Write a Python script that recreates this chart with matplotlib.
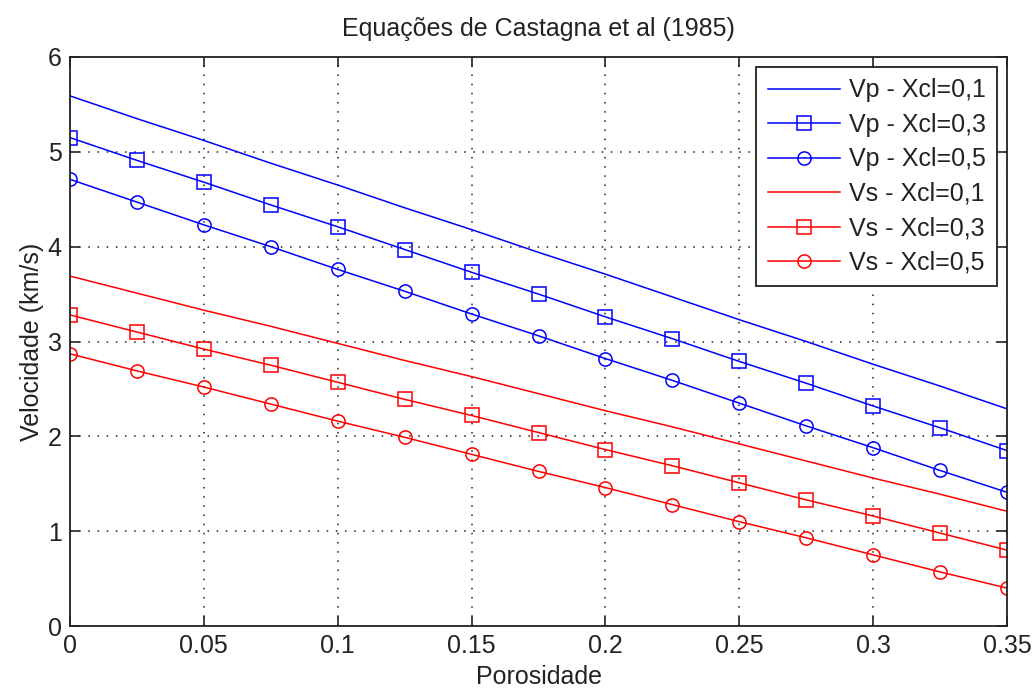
import numpy as np
import matplotlib.pyplot as plt

plt.rcParams['font.family'] = ['Liberation Sans', 'DejaVu Sans']

# porosidade nos pontos marcados
phi = [0, 0.025, 0.05, 0.075, 0.1, 0.125, 0.15, 0.175, 0.2, 0.225, 0.25, 0.275, 0.3, 0.325, 0.35]

# velocidades (km/s)
vp_01 = [5.59, 5.35, 5.12, 4.88, 4.65, 4.41, 4.18, 3.94, 3.71, 3.47, 3.23, 3.00, 2.76, 2.53, 2.29]
vp_03 = [5.15, 4.91, 4.68, 4.44, 4.21, 3.97, 3.73, 3.50, 3.26, 3.03, 2.79, 2.56, 2.32, 2.09, 1.85]
vp_05 = [4.71, 4.47, 4.23, 4.00, 3.76, 3.53, 3.29, 3.06, 2.82, 2.59, 2.35, 2.11, 1.88, 1.64, 1.41]
vs_01 = [3.69, 3.51, 3.33, 3.16, 2.98, 2.80, 2.63, 2.45, 2.27, 2.10, 1.92, 1.74, 1.56, 1.39, 1.21]
vs_03 = [3.28, 3.10, 2.92, 2.75, 2.57, 2.39, 2.22, 2.04, 1.86, 1.69, 1.51, 1.33, 1.16, 0.98, 0.80]
vs_05 = [2.87, 2.69, 2.52, 2.34, 2.16, 1.99, 1.81, 1.63, 1.46, 1.28, 1.10, 0.93, 0.75, 0.57, 0.40]

labels = ['Vp - Xcl=0,1', 'Vp - Xcl=0,3', 'Vp - Xcl=0,5',
          'Vs - Xcl=0,1', 'Vs - Xcl=0,3', 'Vs - Xcl=0,5']

fig = plt.figure(figsize=(10.35, 6.91), dpi=100)
ax = fig.add_axes([70 / 1035, 1 - 626 / 691, 937 / 1035, 569 / 691])

fs = 18
ms = 9.5
ax.plot(phi, vp_01, '-', color='#0000ff', lw=1.1, label=labels[0])
ax.plot(phi, vp_03, '-s', color='#0000ff', lw=1.1, ms=ms, mfc='none', mew=1.1, label=labels[1])
ax.plot(phi, vp_05, '-o', color='#0000ff', lw=1.1, ms=ms, mfc='none', mew=1.1, label=labels[2])
ax.plot(phi, vs_01, '-', color='#ff0000', lw=1.1, label=labels[3])
ax.plot(phi, vs_03, '-s', color='#ff0000', lw=1.1, ms=ms, mfc='none', mew=1.1, label=labels[4])
ax.plot(phi, vs_05, '-o', color='#ff0000', lw=1.1, ms=ms, mfc='none', mew=1.1, label=labels[5])

ax.set_xlim(0, 0.35)
ax.set_ylim(0, 6)
ax.set_xticks([0, 0.05, 0.1, 0.15, 0.2, 0.25, 0.3, 0.35])
ax.set_xticklabels(['0', '0.05', '0.1', '0.15', '0.2', '0.25', '0.3', '0.35'])
ax.set_yticks(range(7))
ax.tick_params(direction='in', length=7, width=1.2, labelsize=fs, colors='#222222',
               top=True, right=True, pad=6)
ax.grid(True, color='#222222', linestyle=(0, (1, 5)), linewidth=1.1)
for s in ax.spines.values():
    s.set_linewidth(1.3)
    s.set_color('#222222')

ax.set_title('Equações de Castagna et al (1985)', fontsize=fs, color='#222222', pad=15)
ax.set_xlabel('Porosidade', fontsize=fs, color='#222222', labelpad=5)
ax.set_ylabel('Velocidade (km/s)', fontsize=fs, color='#222222', labelpad=3)

leg = ax.legend(loc='upper right', fontsize=fs, fancybox=False, framealpha=1,
                edgecolor='#222222', borderpad=0.45, labelspacing=0.42,
                handlelength=2.9, handletextpad=0.35, borderaxespad=0.4)
leg.get_frame().set_linewidth(1.3)
for t in leg.get_texts():
    t.set_color('#222222')

fig.savefig('out.png', dpi=100)
